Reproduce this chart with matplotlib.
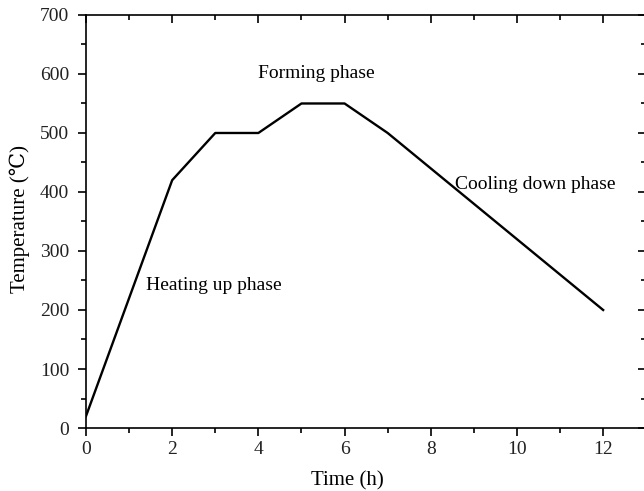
import matplotlib
matplotlib.use("Agg")
import matplotlib.pyplot as plt
from matplotlib.ticker import MultipleLocator

plt.rcParams['font.family'] = ['Liberation Serif', 'DejaVu Serif']
plt.rcParams['font.size'] = 14

# heating schedule
time_h = [0, 2, 3, 4, 5, 6, 7, 12]
temp_c = [20, 420, 500, 500, 550, 550, 500, 200]

phase_labels = ["Heating up phase", "Forming phase", "Cooling down phase"]
phase_x = [2.97, 5.35, 10.42]
phase_y = [242, 600, 412]

fig = plt.figure(figsize=(6.44, 4.91), dpi=100)
ax = fig.add_axes([0.1335, 0.1283, 0.8700, 0.8412])

ax.plot(time_h, temp_c, color="black", lw=1.7)
for label, x, y in zip(phase_labels, phase_x, phase_y):
    ax.text(x, y, label, ha="center", va="center", fontsize=14)

ax.set_xlim(0, 13)
ax.set_ylim(0, 700)
ax.xaxis.set_major_locator(MultipleLocator(2))
ax.xaxis.set_minor_locator(MultipleLocator(1))
ax.yaxis.set_major_locator(MultipleLocator(100))
ax.yaxis.set_minor_locator(MultipleLocator(50))
ax.set_xticks([0, 2, 4, 6, 8, 10, 12])

ax.tick_params(which="both", top=True, right=True, width=1.2, labelsize=14,
               labelcolor="#222222")
ax.tick_params(which="major", length=6)
ax.tick_params(which="minor", length=3.5)
ax.tick_params(axis="both", which="both", direction="out")
ax.tick_params(axis="y", pad=6)
# top/right ticks point inward
for t in ax.xaxis.get_major_ticks() + ax.xaxis.get_minor_ticks():
    t.tick2line.set_marker(matplotlib.lines.TICKDOWN)
for t in ax.yaxis.get_major_ticks() + ax.yaxis.get_minor_ticks():
    t.tick2line.set_marker(matplotlib.lines.TICKLEFT)

for s in ax.spines.values():
    s.set_linewidth(1.2)

ax.set_xlabel("Time (h)", fontsize=15)
ax.set_ylabel("Temperature (℃)", fontsize=15)
ax.xaxis.set_label_coords(0.466, -0.105)
ax.yaxis.set_label_coords(-0.100, 0.505)

fig.savefig("out.png", dpi=100)
